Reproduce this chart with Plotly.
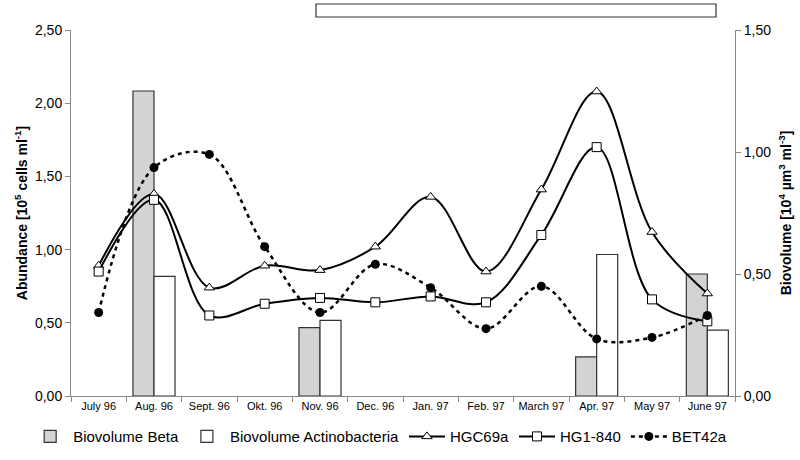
import plotly.graph_objects as go

months = ["July 96", "Aug. 96", "Sept. 96", "Okt. 96", "Nov. 96", "Dec. 96",
          "Jan. 97", "Feb. 97", "March 97", "Apr. 97", "May 97", "June 97"]

biovol_beta = [None, 1.25, None, None, 0.28, None, None, None, None, 0.16, None, 0.50]
biovol_actino = [None, 0.49, None, None, 0.31, None, None, None, None, 0.58, None, 0.27]

hgc69a = [0.89, 1.38, 0.74, 0.89, 0.86, 1.02, 1.36, 0.85, 1.41, 2.08, 1.12, 0.70]
hg1_840 = [0.85, 1.34, 0.55, 0.63, 0.67, 0.64, 0.68, 0.64, 1.10, 1.70, 0.66, 0.51]
bet42a = [0.57, 1.56, 1.65, 1.02, 0.57, 0.90, 0.74, 0.46, 0.75, 0.39, 0.40, 0.55]

left_ticks = [0, 0.5, 1.0, 1.5, 2.0, 2.5]
right_ticks = [0, 0.5, 1.0, 1.5]

FONT = "Liberation Sans, Arial, sans-serif"

fig = go.Figure()
fig.add_trace(go.Bar(x=months, y=biovol_beta, name="Biovolume Beta",
                     marker=dict(color="#d3d3d3", line=dict(color="#333", width=1.2)),
                     yaxis="y"))
fig.add_trace(go.Bar(x=months, y=biovol_actino, name="Biovolume Actinobacteria",
                     marker=dict(color="white", line=dict(color="#333", width=1.2)),
                     yaxis="y"))
fig.add_trace(go.Scatter(x=months, y=hgc69a, name="HGC69a", yaxis="y2",
                         mode="lines+markers",
                         line=dict(color="black", width=2, shape="spline", smoothing=1),
                         marker=dict(symbol="triangle-up", size=9, color="white",
                                     line=dict(color="black", width=1))))
fig.add_trace(go.Scatter(x=months, y=hg1_840, name="HG1-840", yaxis="y2",
                         mode="lines+markers",
                         line=dict(color="black", width=2, shape="spline", smoothing=1),
                         marker=dict(symbol="square", size=9, color="white",
                                     line=dict(color="black", width=1))))
fig.add_trace(go.Scatter(x=months, y=bet42a, name="BET42a", yaxis="y2",
                         mode="lines+markers",
                         line=dict(color="black", width=2.5, dash="4px,4px", shape="spline", smoothing=1),
                         marker=dict(symbol="circle", size=9, color="black")))

fig.update_layout(
    width=800, height=460,
    margin=dict(l=71, r=65, t=30, b=64, autoexpand=False),
    paper_bgcolor="white", plot_bgcolor="white",
    separators=",.",
    font=dict(family=FONT, size=13, color="black"),
    barmode="group", bargap=0.24, bargroupgap=0,
    showlegend=True,
    legend=dict(orientation="h", x=-0.066, xanchor="left", y=-0.066, yanchor="top",
                font=dict(size=15), itemwidth=36, tracegroupgap=0, entrywidth=0),
    xaxis=dict(range=[-0.5, 11.5], showline=True, linecolor="#888", linewidth=1, ticks="outside",
               tickson="boundaries", ticklen=5, tickcolor="#888", tickangle=0,
               tickfont=dict(size=11), showgrid=False, zeroline=False, automargin=False),
    yaxis=dict(side="right", range=[0, 1.5], tickvals=right_ticks, tickformat=".2f",
               showline=True, linecolor="#888", ticks="outside", ticklen=5, tickcolor="#888",
               showgrid=False, zeroline=False, tickfont=dict(size=14), automargin=False,
               title=dict(text="<b>Biovolume [10<sup>4</sup> µm<sup>3</sup> ml<sup>-3</sup>]</b>",
                          font=dict(size=14), standoff=10)),
    yaxis2=dict(side="left", overlaying="y", range=[0, 2.5], tickvals=left_ticks, tickformat=".2f",
                showline=True, linecolor="#888", ticks="outside", ticklen=5, tickcolor="#888",
                showgrid=False, zeroline=False, tickfont=dict(size=14), automargin=False,
                title=dict(text="<b>Abundance [10<sup>5</sup> cells ml<sup>-1</sup>]</b>",
                           font=dict(size=14), standoff=4)),
    shapes=[dict(type="rect", xref="paper", yref="paper", x0=(316 - 71) / 664, x1=(716 - 71) / 664,
                 y0=1 + (30 - 17) / 366, y1=1 + (30 - 4) / 366,
                 line=dict(color="#333", width=1.2), fillcolor="white")],
)

fig.write_html("out.html", config={"displayModeBar": False},
               post_script="document.body.style.margin='0';")
